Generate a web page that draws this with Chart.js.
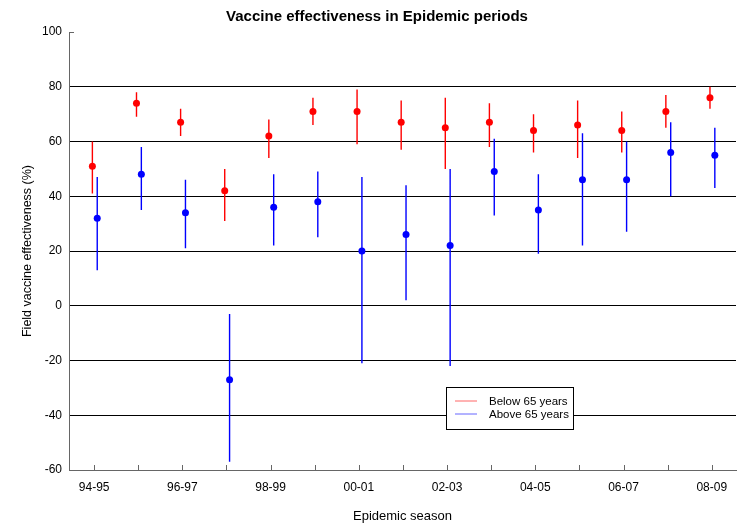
<!DOCTYPE html>
<html>
<head>
<meta charset="utf-8">
<script src="https://cdn.jsdelivr.net/npm/chart.js@4"></script>
<style>
  body { margin: 0; background: #fff; }
  canvas { display: block; }
</style>
</head>
<body>
<canvas id="grafico" width="740" height="524"></canvas>
<script>
const seasons = ['94-95', '95-96', '96-97', '97-98', '98-99', '99-00', '00-01', '01-02', '02-03', '03-04', '04-05', '05-06', '06-07', '07-08', '08-09']

const belowVE = [51, 74, 67, 42, 62, 71, 71, 67, 65, 67, 64, 66, 64, 71, 76]
const belowLow = [41, 69, 62, 31, 54, 66, 59, 57, 50, 58, 56, 54, 56, 65, 72]
const belowHigh = [60, 78, 72, 50, 68, 76, 79, 75, 76, 74, 70, 75, 71, 77, 80]

const aboveVE = [32, 48, 34, -27, 36, 38, 20, 26, 22, 49, 35, 46, 46, 56, 55]
const aboveLow = [13, 35, 21, -57, 22, 25, -21, 2, -22, 33, 19, 22, 27, 40, 43]
const aboveHigh = [47, 58, 46, -3, 48, 49, 47, 44, 50, 61, 48, 63, 60, 67, 65]

const yTicks = [-60, -40, -20, 0, 20, 40, 60, 80, 100]

const fonte = 'Liberation Sans, Arial, sans-serif'

// barras de erro, desenhadas por baixo dos pontos
const barrasErro = {
    id: 'barrasErro',
    beforeDatasetsDraw(chart) {
        const { ctx, scales: { x, y } } = chart
        ctx.save()
        ctx.lineWidth = 1.4
        chart.data.datasets.forEach(ds => {
            ctx.strokeStyle = ds.borderColor
            ctx.beginPath()
            ds.data.forEach((p, i) => {
                const px = x.getPixelForValue(p.x)
                ctx.moveTo(px, y.getPixelForValue(ds.low[i]))
                ctx.lineTo(px, y.getPixelForValue(ds.high[i]))
            })
            ctx.stroke()
        })
        ctx.restore()
    }
}

// marcas de escala para dentro do grafico
const marcasInternas = {
    id: 'marcasInternas',
    afterDraw(chart) {
        const { ctx, chartArea, scales: { x, y } } = chart
        ctx.save()
        ctx.strokeStyle = '#666'
        ctx.lineWidth = 1
        ctx.beginPath()
        x.ticks.forEach(t => {
            const px = Math.round(x.getPixelForValue(t.value)) + 0.5
            ctx.moveTo(px, chartArea.bottom)
            ctx.lineTo(px, chartArea.bottom - 5)
        })
        const topo = Math.round(y.getPixelForValue(100)) + 0.5
        ctx.moveTo(chartArea.left, topo)
        ctx.lineTo(chartArea.left + 5, topo)
        ctx.stroke()
        ctx.restore()
    }
}

const legendaCaixa = {
    id: 'legendaCaixa',
    afterDraw(chart) {
        const { ctx, chartArea } = chart
        const left = chartArea.left + 377
        const top = chartArea.top + 355
        ctx.save()
        ctx.fillStyle = '#fff'
        ctx.fillRect(left, top, 127, 42)
        ctx.strokeStyle = '#000'
        ctx.lineWidth = 1
        ctx.strokeRect(left + 0.5, top + 0.5, 127, 42)
        ctx.font = '11.5px ' + fonte
        ctx.textBaseline = 'middle'
        chart.data.datasets.forEach((ds, i) => {
            const ly = top + 14 + i * 13
            ctx.strokeStyle = ds.borderColor
            ctx.globalAlpha = 0.6
            ctx.beginPath()
            ctx.moveTo(left + 9, ly)
            ctx.lineTo(left + 31, ly)
            ctx.stroke()
            ctx.globalAlpha = 1
            ctx.fillStyle = '#000'
            ctx.fillText(ds.label, left + 43, ly + 0.5)
        })
        ctx.restore()
    }
}

const ctx = document.getElementById('grafico').getContext('2d')

new Chart(ctx, {
    type: 'scatter',
    data: {
        datasets: [
            {
                label: 'Below 65 years',
                data: belowVE.map((v, i) => ({ x: i - 0.04, y: v })),
                low: belowLow,
                high: belowHigh,
                backgroundColor: '#ff0000',
                borderColor: '#ff0000',
                pointRadius: 3.5,
                pointBorderWidth: 0
            },
            {
                label: 'Above 65 years',
                data: aboveVE.map((v, i) => ({ x: i + 0.07, y: v })),
                low: aboveLow,
                high: aboveHigh,
                backgroundColor: '#0000ff',
                borderColor: '#0000ff',
                pointRadius: 3.5,
                pointBorderWidth: 0
            }
        ]
    },
    options: {
        responsive: false,
        animation: false,
        devicePixelRatio: 1,
        layout: { padding: { left: 16, right: 2, top: 0, bottom: 0 } },
        plugins: {
            legend: { display: false },
            tooltip: { enabled: false },
            title: {
                display: true,
                text: 'Vaccine effectiveness in Epidemic periods',
                color: '#000',
                font: { family: fonte, size: 15, weight: 'bold', lineHeight: 1.2 },
                padding: { top: 8, bottom: 6 }
            }
        },
        scales: {
            x: {
                type: 'linear',
                min: -0.57,
                max: 14.55,
                afterBuildTicks: scale => {
                    scale.ticks = seasons.map((s, i) => ({ value: i }))
                },
                afterFit: scale => { scale.height = 54 },
                ticks: {
                    autoSkip: false,
                    maxRotation: 0,
                    padding: 10,
                    color: '#000',
                    font: { family: fonte, size: 12 },
                    callback: (v, i) => (i % 2 === 0 ? seasons[i] : '')
                },
                grid: { drawOnChartArea: false, drawTicks: false },
                border: { color: '#666' },
                title: {
                    display: true,
                    text: 'Epidemic season',
                    color: '#000',
                    font: { family: fonte, size: 13 },
                    padding: { top: 0, bottom: 0 }
                }
            },
            y: {
                min: -60,
                max: 100,
                afterBuildTicks: scale => {
                    scale.ticks = yTicks.map(v => ({ value: v }))
                },
                afterFit: scale => { scale.width = 53 },
                ticks: {
                    padding: 7,
                    color: '#000',
                    font: { family: fonte, size: 12 }
                },
                grid: {
                    drawTicks: false,
                    color: c => (c.tick && (c.tick.value === 100 || c.tick.value === -60) ? 'rgba(0,0,0,0)' : '#000')
                },
                border: { color: '#666' },
                title: {
                    display: true,
                    text: 'Field vaccine effectiveness (%)',
                    color: '#000',
                    font: { family: fonte, size: 12.5 },
                    padding: { top: 4, bottom: 0 }
                }
            }
        }
    },
    plugins: [barrasErro, marcasInternas, legendaCaixa]
})
</script>
</body>
</html>
